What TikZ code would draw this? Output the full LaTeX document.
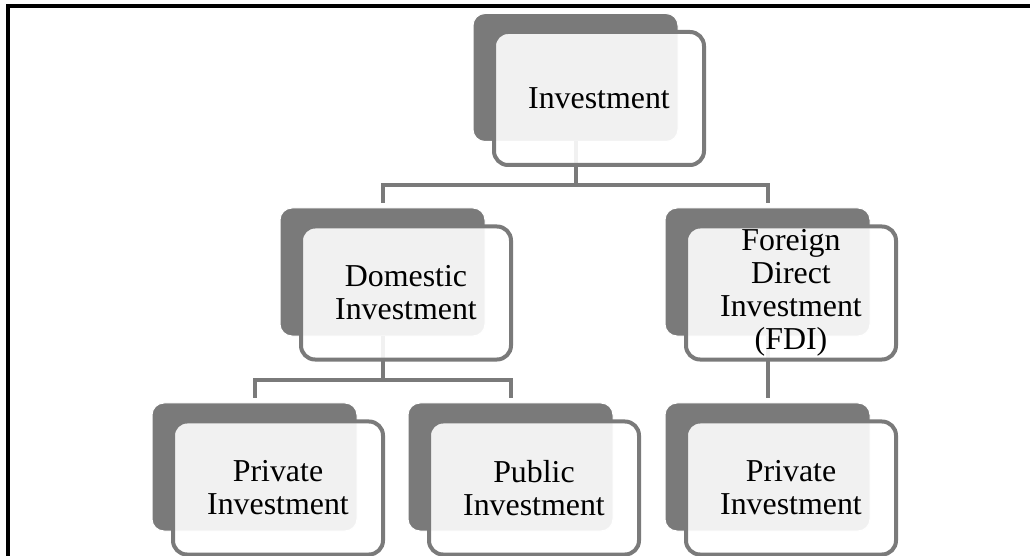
\documentclass[tikz,border=0pt]{standalone}
\usepackage{fontspec}
\setmainfont{Liberation Serif}
\definecolor{dk}{RGB}{122,122,122}
\tikzset{
  backbox/.style={rectangle, rounded corners=12bp, fill=dk, draw=white, line width=1bp,
    minimum width=205bp, minimum height=128bp, inner sep=0pt, outer sep=0pt},
  frontbox/.style={rectangle, rounded corners=14bp, fill=white, fill opacity=0.9, text opacity=1,
    draw=dk, draw opacity=1, line width=4bp, minimum width=210bp, minimum height=133bp,
    inner sep=0pt, outer sep=0pt, align=center, text=black,
    font=\fontsize{32}{33}\selectfont},
  conn/.style={draw=dk, line width=4bp},
  frame/.style={draw=black, line width=4bp}
}
\begin{document}
\begin{tikzpicture}[x=1bp,y=-1bp]
\useasboundingbox (0,0) rectangle (1030,556);
\draw[frame] (8,560) -- (8,6) -- (1034,6);
% back boxes
\node[backbox] (b1) at (575.5,77.5) {};
\node[backbox] (b2) at (382.5,272) {};
\node[backbox] (b3) at (767.5,272) {};
\node[backbox] (b4) at (254.5,467) {};
\node[backbox] (b5) at (510.5,467) {};
\node[backbox] (b6) at (767.5,467) {};
% junctions
\coordinate (j1) at (575.5,185);
\coordinate (j2) at (382.5,380);
% connectors
\draw[conn, shorten >=5bp] (b1.south) -- (j1) -| (b2.north);
\draw[conn, shorten >=5bp] (j1) -| (b3.north);
\draw[conn, shorten >=5bp] (b2.south) -- (j2) -| (b4.north);
\draw[conn, shorten >=5bp] (j2) -| (b5.north);
\draw[conn, shorten >=5bp] (b3.south) -- (b6.north);
% front boxes
\node[frontbox] (f1) at (599,98.5) {Investment};
\node[frontbox] (f2) at (406,293) {Domestic\\Investment};
\node[frontbox] (f3) at (791,293) {Foreign\\Direct\\Investment\\(FDI)};
\node[frontbox] (f4) at (278,488) {Private\\Investment};
\node[frontbox] (f5) at (534,488) {Public\\Investment};
\node[frontbox] (f6) at (791,488) {Private\\Investment};
\end{tikzpicture}
\end{document}
